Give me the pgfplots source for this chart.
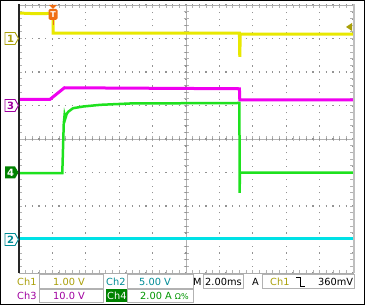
\documentclass[border=0pt]{standalone}
\usepackage{pgfplots}
\pgfplotsset{compat=1.18}
\usepackage{fontspec}
\setmainfont{DejaVu Sans}
\definecolor{tyel}{RGB}{232,232,0}
\definecolor{tmag}{RGB}{240,0,240}
\definecolor{tgrn}{RGB}{30,225,30}
\definecolor{tcya}{RGB}{0,225,230}
\definecolor{lyel}{RGB}{170,160,10}
\definecolor{lcya}{RGB}{0,140,150}
\definecolor{lmag}{RGB}{160,0,160}
\definecolor{lgrn}{RGB}{0,150,0}
\definecolor{fgrn}{RGB}{0,130,0}
\definecolor{trig}{RGB}{240,110,20}
\begin{document}
\begin{tikzpicture}
\begin{scope}[x=1pt,y=-1pt]
\useasboundingbox (0,0) rectangle (365,305);
\fill[white] (0,0) rectangle (365,305);
% center cross
\draw[gray!60, line width=0.7pt] (19,139) -- (353,139);
\draw[gray!60, line width=0.7pt] (186,5) -- (186,273);
\foreach \i in {1,...,49} {\draw[gray!60, line width=0.7pt] (19+\i*6.68,136.5) -- (19+\i*6.68,141.5);}
\foreach \i in {1,...,39} {\draw[gray!60, line width=0.7pt] (183.5,5+\i*6.7) -- (188.5,5+\i*6.7);}
\end{scope}
\begin{axis}[
  at={(19pt,-273pt)}, anchor=south west,
  scale only axis, width=334pt, height=268pt,
  xmin=0, xmax=10, ymin=-4, ymax=4,
  xtick={0,...,10}, ytick={-4,...,4},
  xticklabels={}, yticklabels={},
  minor x tick num=4, minor y tick num=4,
  tick align=inside, major tick length=3pt, minor tick length=3pt,
  tick style={gray!60, line width=0.7pt},
  grid=major,
  major grid style={gray!85, line width=1.2pt, dash pattern=on 1.2pt off 5.48pt, dash phase=0.6pt},
  axis line style={gray!65, line width=0.9pt},
  clip=true,
]
\addplot[tcya, line width=3pt] coordinates {(0,-2.98) (10,-2.98)};
\addplot[tgrn, line width=2.5pt] coordinates {
(0,-1.015) (1.296,-1.015) (1.34,0.45) (1.365,0.72) (1.39,0.62) (1.43,0.75) (1.47,0.81) (1.62,0.92) (1.92,0.97) (2.43,1.02) (3.32,1.06) (5.42,1.07) (6.60,1.075) (6.605,-1.61) (6.615,-1.0) (10,-1.0)};
\addplot[tmag, line width=3pt] coordinates {
(0,1.185) (0.93,1.185) (1.36,1.53) (3,1.52) (6.60,1.50) (6.61,1.17) (10,1.165)};
\addplot[tyel, line width=3pt] coordinates {
(0,3.76) (0.5,3.74) (1.02,3.75) (1.025,3.16) (3,3.16) (6.60,3.16) (6.61,2.45) (6.625,3.13) (10,3.13)};
\end{axis}
\begin{scope}[x=1pt,y=-1pt]
% borders
\draw[gray!30!black, line width=1.6pt] (19,4.5) -- (19,273.5);
\draw[gray!50, line width=2.4pt] (354,4.5) -- (354,273.5);
% trigger marker
\fill[trig] (49,5) -- (57,5) -- (53,9) -- cycle;
\fill[trig, rounded corners=1.5pt] (48.5,9) rectangle (57.5,20);
\node[text=white, font=\fontsize{8}{8}\selectfont\bfseries, inner sep=0] at (53,14.5) {T};
\draw[trig, line width=0.6pt] (53,20) -- (53,25);
% trigger level
\fill[lyel] (346,27) -- (352,23) -- (352,31) -- cycle;
% channel markers
\foreach \y/\n/\c in {38.5/1/lyel, 105.5/3/lmag, 239.5/2/lcya} {
  \draw[\c, line width=0.9pt, fill=white] (5,\y-6) -- (15,\y-6) -- (18.5,\y) -- (15,\y+6) -- (5,\y+6) -- cycle;
  \node[text=\c, font=\fontsize{10}{10}\selectfont\bfseries, inner sep=0] at (10.5,\y) {\n};
}
\fill[fgrn] (5,172.5-6) -- (15,172.5-6) -- (18.5,172.5) -- (15,172.5+6) -- (5,172.5+6) -- cycle;
\node[text=white, font=\fontsize{10}{10}\selectfont\bfseries, inner sep=0] at (10.5,172.5) {4};
% status boxes
\draw[gray!60, line width=0.7pt] (39,274.5) rectangle (103,288);
\draw[gray!60, line width=0.7pt] (127,274.5) rectangle (193,288);
\draw[gray!60, line width=0.7pt] (203,274.5) rectangle (243,288);
\draw[gray!60, line width=0.7pt] (262,274.5) rectangle (354,288);
\draw[gray!60, line width=0.7pt] (39,289) rectangle (103,302);
\draw[gray!60, line width=0.7pt] (127,289) rectangle (193,302);
\fill[fgrn] (106,289) rectangle (127,302);
\tikzset{st/.style={anchor=west, inner sep=0, font=\fontsize{9.8}{10}\selectfont}}
\node[st, text=lyel] at (17,281.5) {Ch1};
\node[st, text=lyel] at (53,281.5) {1.00 V};
\node[st, text=lcya] at (106,281.5) {Ch2};
\node[st, text=lcya] at (139,281.5) {5.00 V};
\node[st, text=black] at (193,281.5) {M};
\node[st, text=black] at (205,281.5) {2.00ms};
\node[st, text=black] at (252,281.5) {A};
\node[st, text=lyel] at (270,281.5) {Ch1};
\draw[black, line width=0.9pt] (296,277) -- (300.5,277) -- (300.5,286) -- (305,286);
\node[st, text=black] at (318,281.5) {360mV};
\node[st, text=lmag] at (17,295.5) {Ch3};
\node[st, text=lmag] at (53,295.5) {10.0 V};
\node[st, text=white] at (107,295.5) {Ch4};
\node[st, text=lgrn] at (140,295.5) {2.00 A \fontsize{8}{8}\selectfont Ω\%};
% outer frame
\draw[black, line width=1pt] (0.5,0.5) rectangle (364.5,304.5);
\end{scope}
\end{tikzpicture}
\end{document}
